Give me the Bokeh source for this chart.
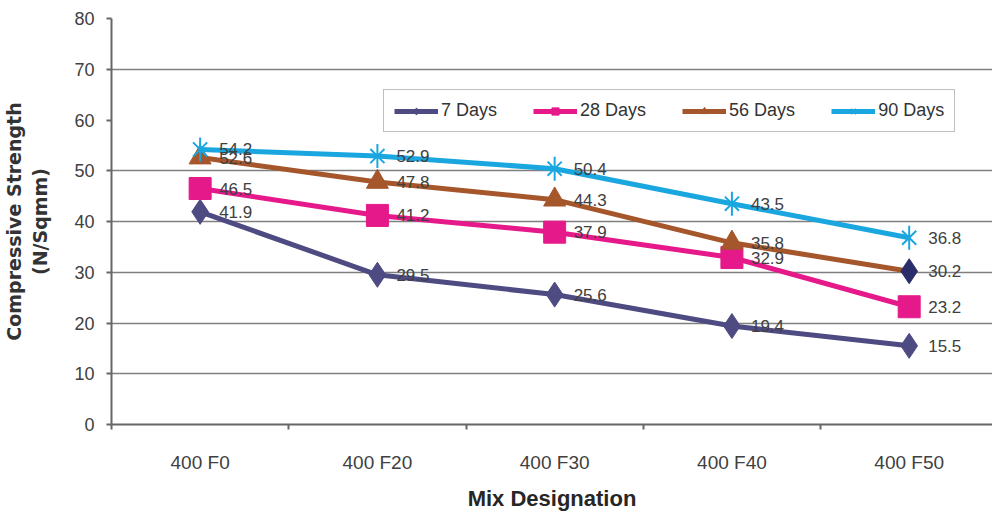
from bokeh.plotting import figure
from bokeh.models import Range1d, FixedTicker, Legend, LegendItem, ColumnDataSource
from bokeh.embed import file_html
from bokeh.resources import INLINE
from bokeh.core.properties import value

# Mix designations and compressive strength (N/Sqmm) by curing age
mixes = ["400 F0", "400 F20", "400 F30", "400 F40", "400 F50"]
days_7 = [41.9, 29.5, 25.6, 19.4, 15.5]
days_28 = [46.5, 41.2, 37.9, 32.9, 23.2]
days_56 = [52.6, 47.8, 44.3, 35.8, 30.2]
days_90 = [54.2, 52.9, 50.4, 43.5, 36.8]
y_ticks = [0, 10, 20, 30, 40, 50, 60, 70, 80]
grid_ticks = [10, 20, 30, 40, 50, 70, 80]

xs = list(range(len(mixes)))

FONT = "Liberation Sans"
C7, C28, C56, C90 = "#4e4a82", "#e6198a", "#a5562b", "#1aa6df"
NAVY = "#2b2d6b"

p = figure(width=992, height=519, output_backend="svg", toolbar_location=None,
           x_range=Range1d(-0.5, 4.47), y_range=Range1d(0, 80),
           min_border_left=108, min_border_right=0, min_border_top=18, min_border_bottom=95)
p.outline_line_color = None
p.background_fill_color = "white"
p.border_fill_color = "white"

# x axis: labels at category centres, tick marks between categories
xa = p.xaxis[0]
xa.ticker = FixedTicker(ticks=xs, minor_ticks=[i - 0.5 for i in range(len(mixes) + 1)])
xa.major_label_overrides = {i: m for i, m in enumerate(mixes)}
xa.major_tick_in = 0
xa.major_tick_out = 0
xa.minor_tick_in = 0
xa.minor_tick_out = 5
xa.minor_tick_line_color = "#666666"
xa.minor_tick_line_width = 2
xa.axis_line_color = "#666666"
xa.axis_line_width = 2
xa.major_label_text_font = FONT
xa.major_label_text_font_size = "19px"
xa.major_label_text_color = "#404040"
xa.major_label_standoff = 22
xa.axis_label = "Mix Designation"
xa.axis_label_text_font = FONT
xa.axis_label_text_font_style = "bold"
xa.axis_label_text_font_size = "22px"
xa.axis_label_text_color = "#262626"
xa.axis_label_standoff = 10

ya = p.yaxis[0]
ya.ticker = FixedTicker(ticks=y_ticks)
ya.minor_tick_line_color = None
ya.major_tick_in = 0
ya.major_tick_out = 5
ya.major_tick_line_color = "#666666"
ya.major_tick_line_width = 2
ya.axis_line_color = "#666666"
ya.axis_line_width = 2
ya.major_label_text_font = FONT
ya.major_label_text_font_size = "18px"
ya.major_label_text_color = "#404040"
ya.major_label_standoff = 12
ya.axis_label = "Compressive Strength\n(N/Sqmm)"
ya.axis_label_text_font = "DejaVu Sans"
ya.axis_label_text_font_style = "bold"
ya.axis_label_text_font_size = "19px"
ya.axis_label_text_color = "#333333"
ya.axis_label_standoff = 20

p.xgrid.grid_line_color = None
p.ygrid.ticker = FixedTicker(ticks=grid_ticks)
p.ygrid.grid_line_color = "#7f7f7f"
p.ygrid.grid_line_width = 1.5

LW = 5

# 7 Days
l7 = p.line(xs, days_7, line_color=C7, line_width=LW)
m7 = p.scatter(xs, days_7, marker="diamond", size=25, fill_color=C7, line_color=C7)

# 28 Days
l28 = p.line(xs, days_28, line_color=C28, line_width=LW)
m28 = p.scatter(xs, days_28, marker="square", size=22, fill_color=C28, line_color=C28)

# 56 Days (last point marked with a navy diamond)
l56 = p.line(xs, days_56, line_color=C56, line_width=LW)
m56 = p.scatter(xs[:-1], days_56[:-1], marker="triangle", size=22, fill_color=C56, line_color=C56)
p.scatter(xs[-1:], days_56[-1:], marker="diamond", size=25, fill_color=NAVY, line_color=NAVY)

# 90 Days (star markers)
l90 = p.line(xs, days_90, line_color=C90, line_width=LW)
m90a = p.scatter(xs, days_90, marker="x", size=20, line_color=C90, line_width=2)
m90b = p.scatter(xs, days_90, marker="dash", angle=1.5708, size=24, line_color=C90, line_width=2)

# value labels
for series in (days_7, days_28, days_56, days_90):
    src = ColumnDataSource(dict(x=xs, y=series, t=[f"{v:.1f}" for v in series]))
    p.text(x="x", y="y", text="t", source=src, x_offset=19, text_align="left",
           text_baseline="middle", text_font=value(FONT), text_font_size="17px",
           text_color="#404040")

legend = Legend(items=[
    LegendItem(label="7 Days", renderers=[l7, m7]),
    LegendItem(label="28 Days", renderers=[l28, m28]),
    LegendItem(label="56 Days", renderers=[l56, m56]),
    LegendItem(label="90 Days", renderers=[l90, m90a, m90b]),
], orientation="horizontal", location=(272, 292))
legend.border_line_color = "#7f7f7f"
legend.border_line_width = 1.5
legend.background_fill_color = "white"
legend.background_fill_alpha = 1
legend.padding = 10
legend.spacing = 36
legend.margin = 0
legend.glyph_width = 44
legend.glyph_height = 18
legend.label_standoff = 3
legend.label_text_font = FONT
legend.label_text_font_size = "18px"
legend.label_text_color = "#333333"
legend.label_height = 18
p.add_layout(legend, "center")

open("out.html", "w").write(file_html(p, INLINE))
